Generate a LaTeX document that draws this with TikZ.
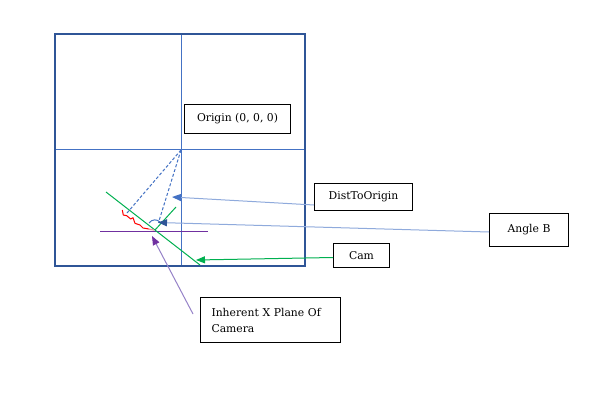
\documentclass[tikz,border=0pt]{standalone}
\usepackage{fontspec}
\setmainfont{DejaVu Serif}
\usetikzlibrary{arrows.meta}
\definecolor{frameblue}{RGB}{47,85,151}
\definecolor{gridblue}{RGB}{68,114,196}
\definecolor{lightblue}{RGB}{143,170,220}
\definecolor{camgreen}{RGB}{0,176,80}
\definecolor{planepurple}{RGB}{112,48,160}
\definecolor{lightpurple}{RGB}{150,130,200}
\definecolor{pinkend}{RGB}{240,150,160}
\begin{document}
\begin{tikzpicture}[x=1pt,y=-1pt,
  lbl/.style={draw=black, line width=1pt, anchor=north west, align=left,
    font=\fontsize{10.8}{16}\selectfont, inner xsep=11pt, inner ysep=0pt},
  tipstyle/.style={-{Triangle[length=9pt,width=7pt,color=#1]}},
  thin/.style={line width=1pt}]
\useasboundingbox (0,0) rectangle (599,404);
\fill[white] (0,0) rectangle (599,404);
% frame and axes
\draw[gridblue, thin] (55,149) -- (305,149);
\draw[gridblue, thin] (181,34) -- (181,266);
\draw[frameblue, line width=1.6pt] (55,34) rectangle (305,266);
\coordinate (O) at (181,150);
\coordinate (C) at (156.5,231);
% inherent x plane
\coordinate (pl) at (100,231);
\coordinate (pr) at (208,231);
\draw[planepurple, thin] (pl) -- (pr);
% camera plane
\coordinate (gs) at (106,192);
\coordinate (ge) at (200,265);
\draw[camgreen, thin] (gs) -- (ge);
\coordinate (gd) at (176,207);
\draw[camgreen, thin] (155,230) -- (gd);
% dashed lines to origin
\coordinate (dl) at (127,213);
\coordinate (dr) at (158.5,222.5);
\draw[gridblue, thin, dash pattern=on 3pt off 2pt] (O) -- (dl);
\draw[gridblue, thin, dash pattern=on 3pt off 2pt] (O) -- (dr);
% angle arc
\draw[gridblue, thin] (149,223) .. controls (152,219) and (157,219) .. (160,222);
% red squiggle
\draw[red, thin, line join=round] (122.3,210) -- (123.3,215) -- (126.7,215.7) -- (130.7,219) -- (133,217.7) -- (135,223.3) -- (140,225) -- (143,228) -- (149,229);
\draw[pinkend, line width=1.3pt] (148,229) -- (154,230);
% labels
\node[lbl, minimum width=106pt, minimum height=29pt] (orig) at (184,104) {Origin (0, 0, 0)};
\node[lbl, minimum width=98pt, minimum height=27pt] (dist) at (314,183) {DistToOrigin};
\node[lbl, minimum width=79pt, minimum height=33pt] (angb) at (489,213) {Angle B};
\node[lbl, minimum width=56pt, minimum height=24pt] (cam) at (333,243) {Cam};
\node[lbl, text width=118pt, minimum height=45pt] (inh) at (200,297) {Inherent X Plane Of\\Camera};
% connectors
\coordinate (tD) at (172,197);
\coordinate (tA) at (158,222.5);
\coordinate (tC) at (196,260);
\coordinate (tP) at (152,236);
\draw[lightblue, thin, tipstyle=gridblue] ([yshift=-8pt]dist.west) -- (tD);
\draw[lightblue, thin, tipstyle=frameblue] ([yshift=-2pt]angb.west) -- (tA);
\draw[camgreen, thin, tipstyle=camgreen] ([yshift=-2pt]cam.west) -- (tC);
\draw[lightpurple, thin, tipstyle=planepurple] (193,314) -- (tP);
\end{tikzpicture}
\end{document}
